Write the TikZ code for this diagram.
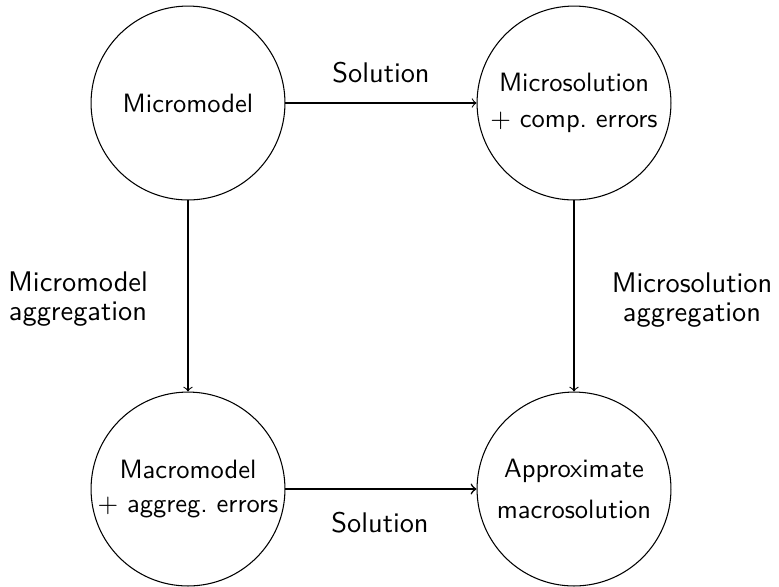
\documentclass[tikz,border=0pt]{standalone}
\usetikzlibrary{arrows}
\begin{document}
\begin{tikzpicture}[x=0.377pt,y=-0.377pt,
  stage/.style={circle,draw,line width=0.4pt,minimum size=73.1pt,inner sep=0pt,
    align=center,font=\sffamily\fontsize{10}{12}\selectfont},
  edgelabel/.style={align=center,inner sep=0pt,font=\sffamily\fontsize{10.7}{11}\selectfont},
  flow/.style={->,line width=0.4pt}]
\useasboundingbox (0,0) rectangle (779,586);

% the four stages
\node[stage] (micro)  at (188,103) {Micromodel};
\node[stage] (msol)   at (574,103) {Microsolution\\[1.5pt]$+$ comp.\ errors};
\node[stage] (macro)  at (188,489) {Macromodel\\[0.5pt]$+$ aggreg.\ errors};
\node[stage] (approx) at (574,489) {Approximate\\[3.5pt]macrosolution};

% transitions
\draw[flow] (micro) -- (msol);
\draw[flow,line width=0.6pt] (macro) -- (approx);
\draw[flow] (micro) -- (macro);
\draw[flow] (msol) -- (approx);

% transition labels
\node[edgelabel,anchor=base] (solTop) at (381,82) {Solution};
\node[edgelabel,anchor=base] (solBot) at (380,532) {Solution};
\node[edgelabel] (aggModel) at (78,299) {Micromodel\\aggregation};
\node[edgelabel] (aggSol) at (692,300) {Microsolution\\aggregation};
\end{tikzpicture}
\end{document}
